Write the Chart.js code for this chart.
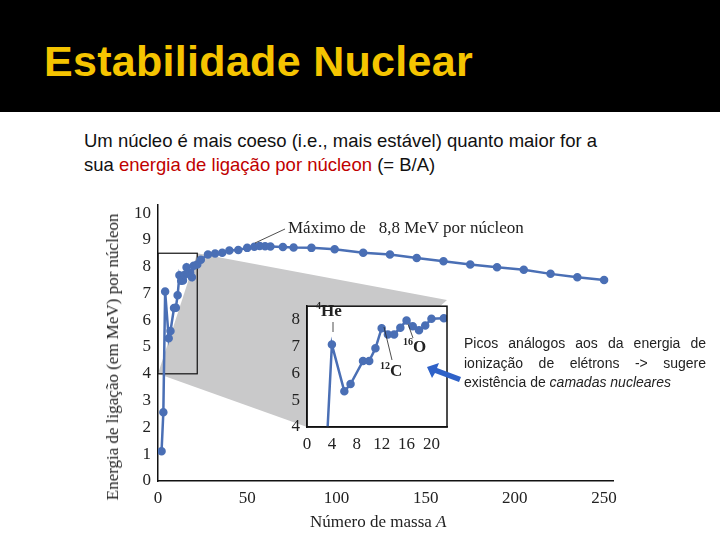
<!DOCTYPE html>
<html><head><meta charset="utf-8">
<script src="https://cdn.jsdelivr.net/npm/chart.js@4/dist/chart.umd.min.js"></script>
<style>
body{margin:0;width:720px;height:540px;background:#fff;position:relative;overflow:hidden;font-family:"Liberation Sans",Arial,sans-serif}
#hdr{position:absolute;left:0;top:0;width:720px;height:112px;background:#000}
#ttl{position:absolute;left:44px;top:37px;color:#f5c400;font-size:43px;font-weight:bold;white-space:nowrap;letter-spacing:0.3px}
#para{position:absolute;left:84px;top:129px;font-size:18.5px;line-height:24px;color:#111}
.s{font-family:"Liberation Serif","Times New Roman",serif;position:absolute;color:#222;white-space:nowrap}
canvas{position:absolute}
</style></head><body>
<div id="hdr"><div id="ttl">Estabilidade Nuclear</div></div>
<div id="para">Um núcleo é mais coeso (i.e., mais estável) quanto maior for a<br>sua <span style="color:#c00000">energia de ligação por núcleon</span> (= B/A)</div>
<canvas id="main" width="720" height="540" style="left:0;top:0;width:720px;height:540px"></canvas>
<canvas id="ins" width="180" height="170" style="left:276px;top:294px;width:180px;height:170px"></canvas>
<div class="s" style="left:113px;top:357px;font-size:17px;transform:translate(-50%,-50%) rotate(-90deg)">Energia de ligação (em MeV) por núcleon</div>
<div class="s" style="left:310px;top:512px;font-size:17px">Número de massa <i>A</i></div>
<div class="s" style="left:288px;top:218px;font-size:17px">Máximo de &nbsp; 8,8 MeV por núcleon</div>
<div class="s" style="left:316px;top:300px;font-size:17px;font-weight:bold"><sup style="font-size:10px">4</sup>He</div>
<div class="s" style="left:380px;top:360px;font-size:17px;font-weight:bold"><sup style="font-size:10px">12</sup>C</div>
<div class="s" style="left:403px;top:336px;font-size:17px;font-weight:bold"><sup style="font-size:10px">16</sup>O</div>
<div style="position:absolute;left:464px;top:334px;width:242px;font-size:14px;line-height:19.5px;color:#222;text-align:justify">Picos análogos aos da energia de ionização de elétrons -&gt; sugere existência de <i>camadas nucleares</i></div>
<svg style="position:absolute;left:0;top:0" width="720" height="540">
<line x1="333" y1="322" x2="333" y2="332" stroke="#222" stroke-width="0.8"/>
<line x1="384" y1="327" x2="392" y2="360" stroke="#222" stroke-width="0.8"/>
<line x1="408" y1="324" x2="413" y2="338" stroke="#222" stroke-width="0.8"/>
<line x1="255" y1="243" x2="285" y2="229" stroke="#222" stroke-width="0.8"/>
<polygon points="461,377 437,368 439,363 427,367 432,378 435,373 459,382" fill="#2f62c8"/>
</svg>
<script>
const mainA=[2,3,4,6,7,9,10,11,12,13,14,15,16,17,18,19,20,22,24,28,32,36,40,45,50,54,57,60,63,70,76,86,99,115,130,145,160,175,190,205,220,235,250];
const mainB=[1.11,2.57,7.07,5.33,5.6,6.46,6.47,6.93,7.68,7.47,7.48,7.7,7.98,7.75,7.77,7.6,8.03,8.08,8.26,8.45,8.49,8.52,8.6,8.62,8.7,8.74,8.77,8.76,8.75,8.73,8.71,8.7,8.65,8.52,8.45,8.32,8.2,8.08,7.98,7.88,7.73,7.6,7.5];
const insetA=[2,3,4,6,7,9,10,11,12,13,14,15,16,17,18,19,20,22];
const insetB=[1.11,2.57,7.07,5.33,5.6,6.46,6.46,6.93,7.68,7.45,7.45,7.7,7.97,7.75,7.6,7.78,8.03,8.05];
const mainTicksY=[0,1,2,3,4,5,6,7,8,9,10];
const mainTicksX=[0,50,100,150,200,250];
const insetTicksX=[0,4,8,12,16,20];
const insetTicksY=[4,5,6,7,8];
const col='#4a6fb5';
const tickFont={family:'"Liberation Serif","Times New Roman",serif',size:17};
function pts(a,b){return a.map((x,i)=>({x:x,y:b[i]}));}
const zoomPlug={id:'zoomPlug',beforeDatasetsDraw(c){
 const x=c.scales.x,y=c.scales.y,g=c.ctx;
 const l=x.getPixelForValue(0),r=x.getPixelForValue(22),t=y.getPixelForValue(8.5),b=y.getPixelForValue(4);
 g.save();g.fillStyle='#c9c9ca';g.beginPath();g.moveTo(r,t);g.lineTo(447,300);g.lineTo(307,427);g.lineTo(l,b);g.closePath();g.fill();
 g.strokeStyle='#111';g.lineWidth=1.2;g.strokeRect(l,t,r-l,b-t);g.restore();}};
new Chart(document.getElementById('main'),{type:'line',data:{datasets:[{data:pts(mainA,mainB),borderColor:col,backgroundColor:col,borderWidth:2.5,pointRadius:3,tension:0}]},
options:{responsive:false,animation:false,plugins:{legend:{display:false},tooltip:{enabled:false}},
layout:{padding:{left:118,top:205,right:107,bottom:4}},
scales:{x:{type:'linear',min:0,max:255,afterFit(s){s.height=55;},afterBuildTicks(s){s.ticks=mainTicksX.map(v=>({value:v}));},grid:{display:false,drawTicks:true,tickLength:5,tickColor:'#111'},border:{color:'#111',width:1.5},ticks:{color:'#222',font:tickFont,padding:2}},
y:{min:0,max:10.3,afterFit(s){s.width=40;},afterBuildTicks(s){s.ticks=mainTicksY.map(v=>({value:v}));},grid:{display:false,tickLength:5,tickColor:'#111'},border:{color:'#111',width:1.5},ticks:{color:'#222',font:tickFont,padding:2}}}},plugins:[zoomPlug]});
const boxPlug={id:'boxPlug',beforeDraw(c){const a=c.chartArea;c.ctx.save();c.ctx.fillStyle='#fff';c.ctx.fillRect(a.left,a.top,a.right-a.left,a.bottom-a.top);c.ctx.restore();},
afterDraw(c){const a=c.chartArea,g=c.ctx;g.save();g.strokeStyle='#111';g.lineWidth=1.5;g.strokeRect(a.left,a.top,a.right-a.left,a.bottom-a.top);g.restore();}};
new Chart(document.getElementById('ins'),{type:'line',data:{datasets:[{data:pts(insetA,insetB),borderColor:col,backgroundColor:col,borderWidth:2.5,pointRadius:3,tension:0}]},
options:{responsive:false,animation:false,plugins:{legend:{display:false},tooltip:{enabled:false}},
layout:{padding:{left:3,top:4,right:9,bottom:7}},
scales:{x:{type:'linear',min:0,max:22.5,afterFit(s){s.height=30;},afterBuildTicks(s){s.ticks=insetTicksX.map(v=>({value:v}));},grid:{display:false,tickLength:5,tickColor:'#111'},border:{color:'#111',width:1.5},ticks:{color:'#222',font:tickFont,padding:2}},
y:{min:4,max:8.5,afterFit(s){s.width=28;},afterBuildTicks(s){s.ticks=insetTicksY.map(v=>({value:v}));},grid:{display:false,tickLength:5,tickColor:'#111'},border:{color:'#111',width:1.5},ticks:{color:'#222',font:tickFont,padding:2}}}},plugins:[boxPlug]});
</script></body></html>
